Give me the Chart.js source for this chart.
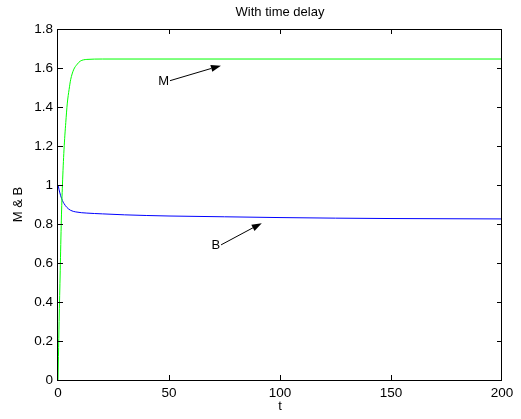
<!DOCTYPE html>
<html>
<head>
<meta charset="utf-8">
<script src="https://cdn.jsdelivr.net/npm/chart.js@4.4.1/dist/chart.umd.min.js"></script>
<style>
  html, body { margin: 0; padding: 0; background: #fff; }
</style>
</head>
<body>
<canvas id="delayChart" width="521" height="419"></canvas>
<script>
// values
const tM   = [0, 0.2, 0.5, 1, 1.5, 2, 2.7, 3.5, 4.2, 5, 5.7, 7, 8.7, 10, 13, 20, 50, 100, 150, 200];
const mVal = [0, 0.12, 0.3, 0.56, 0.82, 1.0, 1.18, 1.32, 1.42, 1.49, 1.54, 1.59, 1.62, 1.635, 1.644, 1.646, 1.646, 1.646, 1.646, 1.646];

const tB   = [0, 0.5, 1.2, 2, 2.7, 4, 5.7, 8, 13, 20, 30, 50, 75, 100, 125, 150, 200];
const bVal = [1, 0.975, 0.945, 0.92, 0.905, 0.885, 0.87, 0.862, 0.856, 0.852, 0.847, 0.841, 0.837, 0.833, 0.830, 0.828, 0.826];

const xTicks = [0, 50, 100, 150, 200];
const yTicks = [0, 0.2, 0.4, 0.6, 0.8, 1, 1.2, 1.4, 1.6, 1.8];

// text labels with arrows: [label, tail t, tail y, head t, head y]
const notes = [
  ['M', 50, 1.535, 73.4, 1.612],
  ['B', 73, 0.693, 91.8, 0.804]
];

const FONT = 'Liberation Sans, Arial, Helvetica, sans-serif';

function pts(xs, ys) {
  return xs.map((v, i) => ({ x: v, y: ys[i] }));
}

// MATLAB style box with inward ticks and the arrow notes
const boxPlugin = {
  id: 'box',
  afterDatasetsDraw(chart) {
    const { ctx, chartArea: a, scales: { x, y } } = chart;
    ctx.save();
    ctx.strokeStyle = '#000';
    ctx.lineWidth = 1;
    ctx.strokeRect(a.left - 0.5, a.top + 0.5, a.right - a.left, a.bottom - a.top);
    const len = 5;
    ctx.beginPath();
    xTicks.slice(1, -1).forEach(v => {
      const px = Math.round(x.getPixelForValue(v)) + 0.5;
      ctx.moveTo(px, a.bottom); ctx.lineTo(px, a.bottom - len);
      ctx.moveTo(px, a.top); ctx.lineTo(px, a.top + len);
    });
    yTicks.slice(1, -1).forEach(v => {
      const py = Math.round(y.getPixelForValue(v)) + 0.5;
      ctx.moveTo(a.left, py); ctx.lineTo(a.left + len, py);
      ctx.moveTo(a.right, py); ctx.lineTo(a.right - len, py);
    });
    ctx.stroke();

    ctx.font = '13px ' + FONT;
    ctx.fillStyle = '#000';
    ctx.textAlign = 'right';
    ctx.textBaseline = 'middle';
    notes.forEach(([txt, t0, y0, t1, y1]) => {
      const x0 = x.getPixelForValue(t0), py0 = y.getPixelForValue(y0);
      const x1 = x.getPixelForValue(t1), py1 = y.getPixelForValue(y1);
      ctx.fillText(txt, x0, py0 + 1);
      const ang = Math.atan2(py1 - py0, x1 - x0);
      const hl = 10, hw = 3.5;
      const bx = x1 - hl * Math.cos(ang), by = py1 - hl * Math.sin(ang);
      ctx.beginPath();
      ctx.moveTo(x0 + 1, py0);
      ctx.lineTo(bx, by);
      ctx.stroke();
      ctx.beginPath();
      ctx.moveTo(x1, py1);
      ctx.lineTo(bx + hw * Math.sin(ang), by - hw * Math.cos(ang));
      ctx.lineTo(bx - hw * Math.sin(ang), by + hw * Math.cos(ang));
      ctx.closePath();
      ctx.fill();
    });
    ctx.restore();
  }
};

const ctx = document.getElementById('delayChart').getContext('2d');
const delayChart = new Chart(ctx, {
  type: 'line',
  data: {
    datasets: [
      {
        label: 'M',
        data: pts(tM, mVal),
        borderColor: 'rgb(0, 255, 0)',
        borderWidth: 1,
        pointRadius: 0,
        cubicInterpolationMode: 'monotone'
      },
      {
        label: 'B',
        data: pts(tB, bVal),
        borderColor: 'rgb(0, 0, 255)',
        borderWidth: 1,
        pointRadius: 0,
        cubicInterpolationMode: 'monotone'
      }
    ]
  },
  options: {
    responsive: false,
    animation: false,
    events: [],
    layout: { padding: { left: 0, right: 19, top: 0, bottom: 0 } },
    plugins: {
      legend: { display: false },
      tooltip: { enabled: false },
      title: {
        display: true,
        text: 'With time delay',
        fullSize: false,
        color: '#000',
        font: { family: FONT, size: 13, weight: 'normal' },
        padding: { top: 5, bottom: 8.4 }
      }
    },
    scales: {
      x: {
        type: 'linear',
        min: 0,
        max: 200,
        grid: { display: false, drawTicks: false },
        border: { display: false },
        afterFit: s => { s.height = 39; },
        afterBuildTicks: s => { s.ticks = xTicks.map(v => ({ value: v })); },
        ticks: {
          color: '#000', padding: 5, maxRotation: 0,
          font: { family: FONT, size: 13.5 },
          callback: v => String(v)
        },
        title: {
          display: true,
          text: 't',
          color: '#000',
          font: { family: FONT, size: 13 },
          padding: { top: 0, bottom: 5 }
        }
      },
      y: {
        min: 0,
        max: 1.8,
        grid: { display: false, drawTicks: false },
        border: { display: false },
        afterFit: s => { s.width = 58; },
        afterBuildTicks: s => { s.ticks = yTicks.map(v => ({ value: v })); },
        ticks: {
          color: '#000', padding: 5,
          font: { family: FONT, size: 13.5 },
          callback: v => String(v)
        },
        title: {
          display: true,
          text: 'M & B',
          color: '#000',
          font: { family: FONT, size: 13 },
          padding: { top: 11, bottom: 0 }
        }
      }
    }
  },
  plugins: [boxPlugin]
});
</script>
</body>
</html>
